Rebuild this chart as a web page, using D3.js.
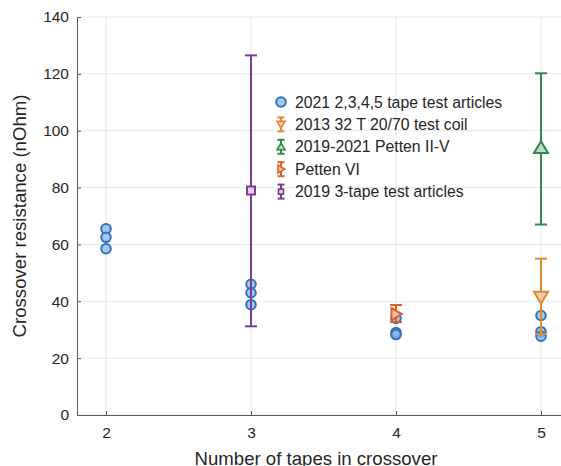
<!DOCTYPE html>
<html>
<head>
<meta charset="utf-8">
<script src="https://cdn.jsdelivr.net/npm/d3@7"></script>
<style>
  body { margin: 0; background: #fff; }
  text { font-family: "Liberation Sans", Arial, sans-serif; fill: #262626; }
</style>
</head>
<body>
<svg id="chart" width="561" height="466"></svg>
<script>
// 2021 2,3,4,5 tape test articles (no error bars)
var tapeX = [2, 2, 2, 3, 3, 3, 4, 4, 4, 5, 5, 5];
var tapeY = [65.5, 62.5, 58.5, 46, 43, 38.8, 34, 29, 28.3, 35, 29.3, 27.7];

// series with error bars: x, value, low, high
var coilX = [5], coilY = [41.5], coilLo = [28.5], coilHi = [55];
var pettenX = [5], pettenY = [94], pettenLo = [67], pettenHi = [120.2];
var petten6X = [4], petten6Y = [35.5], petten6Lo = [32.7], petten6Hi = [38.7];
var threeX = [3], threeY = [79], threeLo = [31.2], threeHi = [126.5];

var legendLabels = [
    '2021 2,3,4,5 tape test articles',
    '2013 32 T 20/70 test coil',
    '2019-2021 Petten II-V',
    'Petten VI',
    '2019 3-tape test articles'
];

var xTicks = [2, 3, 4, 5];
var yTicks = [0, 20, 40, 60, 80, 100, 120, 140];

var svg = d3.select('#chart');
var plotL = 77, plotT = 17, plotB = 415, plotR = 570;

var xScale = d3.scaleLinear().domain([1.8, 5.2]).range([plotL, plotR]);
var yScale = d3.scaleLinear().domain([0, 140]).range([plotB, plotT]);

// grid
var grid = svg.append('g');
grid.selectAll('.gx').data(xTicks).enter().append('line')
    .attr('x1', d => xScale(d)).attr('x2', d => xScale(d))
    .attr('y1', plotT).attr('y2', plotB)
    .attr('stroke', '#e8e8e8').attr('stroke-width', 1);
grid.selectAll('.gy').data(yTicks).enter().append('line')
    .attr('x1', plotL).attr('x2', plotR)
    .attr('y1', d => yScale(d)).attr('y2', d => yScale(d))
    .attr('stroke', '#e8e8e8').attr('stroke-width', 1);

// axes (MATLAB-style inward ticks)
var xAxis = d3.axisBottom(xScale).tickValues(xTicks).tickSizeInner(-4).tickSizeOuter(0).tickPadding(12)
    .tickFormat(d3.format('d'));
var yAxis = d3.axisLeft(yScale).tickValues(yTicks).tickSizeInner(-4).tickSizeOuter(0).tickPadding(8);

var xAxisG = svg.append('g').attr('transform', 'translate(0,' + plotB + ')').call(xAxis);
var yAxisG = svg.append('g').attr('transform', 'translate(' + plotL + ',0)').call(yAxis);
[xAxisG, yAxisG].forEach(function(g) {
    g.selectAll('path, line').attr('stroke', '#5a5a5a');
    g.selectAll('text').style('font-size', '15.5px').attr('fill', '#262626')
        .style('font-family', '"Liberation Sans", Arial, sans-serif');
});

svg.append('text')
    .attr('x', 316).attr('y', 465)
    .attr('text-anchor', 'middle')
    .style('font-size', '18.6px')
    .text('Number of tapes in crossover');
svg.append('text')
    .attr('transform', 'translate(26,' + ((plotT + plotB) / 2) + ') rotate(-90)')
    .attr('text-anchor', 'middle')
    .style('font-size', '18.6px')
    .text('Crossover resistance (nOhm)');

// marker shapes
function markerPath(kind, s) {
    if (kind == 'down') return 'M' + (-s) + ',' + (-s * 0.75) + 'L' + s + ',' + (-s * 0.75) + 'L0,' + (s * 0.95) + 'Z';
    if (kind == 'up') return 'M' + (-s) + ',' + (s * 0.75) + 'L' + s + ',' + (s * 0.75) + 'L0,' + (-s * 0.95) + 'Z';
    if (kind == 'right') return 'M' + (-s * 0.75) + ',' + (-s) + 'L' + (-s * 0.75) + ',' + s + 'L' + (s * 0.95) + ',0Z';
    if (kind == 'square') return 'M-4,-4L4,-4L4,4L-4,4Z';
    return '';
}

// circles
svg.append('g').selectAll('circle')
    .data(tapeX.map((x, i) => [x, tapeY[i]]))
    .enter().append('circle')
    .attr('cx', d => xScale(d[0])).attr('cy', d => yScale(d[1]))
    .attr('r', 4.8)
    .attr('fill', 'rgba(140,180,230,0.75)')
    .attr('stroke', '#2f72bd').attr('stroke-width', 2);

var errSeries = [
    {x: coilX, y: coilY, lo: coilLo, hi: coilHi, color: '#e2892f', fill: '#f4cfa6', kind: 'down', size: 7},
    {x: pettenX, y: pettenY, lo: pettenLo, hi: pettenHi, color: '#2e8a47', fill: '#bcdcc2', kind: 'up', size: 7},
    {x: petten6X, y: petten6Y, lo: petten6Lo, hi: petten6Hi, color: '#df5f2b', fill: '#f3c2ae', kind: 'right', size: 6},
    {x: threeX, y: threeY, lo: threeLo, hi: threeHi, color: '#7c3b95', fill: '#e6d2dc', kind: 'square', size: 4}
];

var capW = 6;
errSeries.forEach(function(s) {
    var g = svg.append('g');
    s.x.forEach(function(x, i) {
        var cx = xScale(x);
        g.append('line').attr('x1', cx).attr('x2', cx)
            .attr('y1', yScale(s.lo[i])).attr('y2', yScale(s.hi[i]))
            .attr('stroke', s.color).attr('stroke-width', 2);
        [s.lo[i], s.hi[i]].forEach(function(v) {
            g.append('line').attr('x1', cx - capW).attr('x2', cx + capW)
                .attr('y1', yScale(v)).attr('y2', yScale(v))
                .attr('stroke', s.color).attr('stroke-width', 2);
        });
        g.append('path').attr('d', markerPath(s.kind, s.size))
            .attr('transform', 'translate(' + cx + ',' + yScale(s.y[i]) + ')')
            .attr('fill', s.fill).attr('stroke', s.color).attr('stroke-width', 2);
    });
});

// legend
var legX = 281, legY = 102, legStep = 22.4;
var leg = svg.append('g');
legendLabels.forEach(function(label, i) {
    var y = legY + i * legStep;
    if (i == 0) {
        leg.append('circle').attr('cx', legX).attr('cy', y).attr('r', 4.8)
            .attr('fill', 'rgba(140,180,230,0.75)').attr('stroke', '#2f72bd').attr('stroke-width', 2);
    } else {
        var s = errSeries[i - 1];
        leg.append('line').attr('x1', legX).attr('x2', legX).attr('y1', y - 7).attr('y2', y + 7)
            .attr('stroke', s.color).attr('stroke-width', 2);
        [y - 7, y + 7].forEach(function(cy) {
            leg.append('line').attr('x1', legX - 3.5).attr('x2', legX + 3.5).attr('y1', cy).attr('y2', cy)
                .attr('stroke', s.color).attr('stroke-width', 2);
        });
        var p = s.kind == 'square' ? 'M-2.5,-2.5L2.5,-2.5L2.5,2.5L-2.5,2.5Z' : markerPath(s.kind, 4);
        leg.append('path').attr('d', p)
            .attr('transform', 'translate(' + legX + ',' + y + ')')
            .attr('fill', s.fill).attr('stroke', s.color).attr('stroke-width', 1.6);
    }
    leg.append('text').attr('x', legX + 14).attr('y', y + 5.5)
        .style('font-size', '15.8px').text(label);
});
</script>
</body>
</html>
